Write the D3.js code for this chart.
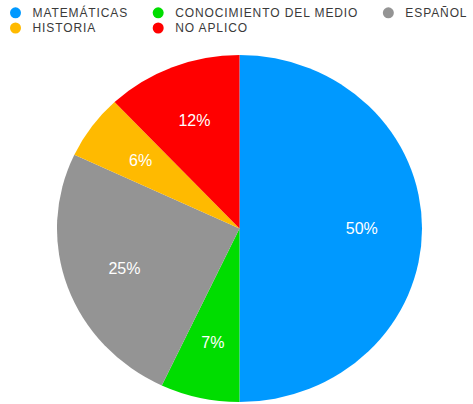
<!DOCTYPE html>
<html>
<head>
<meta charset="utf-8">
<script src="https://cdn.jsdelivr.net/npm/d3@7"></script>
<style>
  body { margin: 0; background: #fff; }
  svg { display: block; font-family: 'Liberation Sans', Arial, sans-serif; }
</style>
</head>
<body>
<svg id="chart" width="473" height="404"></svg>
<script>
const categories = ['MATEMÁTICAS', 'CONOCIMIENTO DEL MEDIO', 'ESPAÑOL', 'HISTORIA', 'NO APLICO']
const values = [50, 7, 25, 6, 12]
const colors = ['#0099ff', '#00dd00', '#949494', '#ffba00', '#ff0000']

const LEGEND_COLUMNS = 3
const width = 473
const cx = 239.5
const cy = 228.5
const radius = 173.5
const stretchX = 1.052

const svg = d3.select('#chart')

const data = categories.map((name, i) => ({ name, value: values[i], color: colors[i] }))

// pie
const pie = d3.pie().sort(null).value(d => d.value)
const arcs = pie(data)
const arc = d3.arc().innerRadius(0).outerRadius(radius)
const labelArc = d3.arc().innerRadius(radius * 0.67).outerRadius(radius * 0.67)

svg.append('g')
  .attr('transform', `translate(${cx},${cy}) scale(${stretchX},1)`)
  .selectAll('path')
  .data(arcs)
  .enter()
  .append('path')
  .attr('d', arc)
  .attr('fill', d => d.data.color)

svg.append('g')
  .attr('transform', `translate(${cx},${cy})`)
  .selectAll('text')
  .data(arcs)
  .enter()
  .append('text')
  .attr('x', d => labelArc.centroid(d)[0] * stretchX)
  .attr('y', d => labelArc.centroid(d)[1])
  .attr('dy', '0.36em')
  .attr('text-anchor', 'middle')
  .attr('fill', '#fff')
  .style('font-size', '16px')
  .text(d => `${d.value}%`)

// legend, laid out as a grid whose columns fit the widest label
const legend = svg.append('g')
const items = legend.selectAll('g.legend-item')
  .data(data)
  .enter()
  .append('g')
  .attr('class', 'legend-item')

items.append('circle')
  .attr('r', 5.5)
  .attr('fill', d => d.color)

items.append('text')
  .attr('x', 17)
  .attr('dy', '0.36em')
  .attr('fill', '#3a3a3a')
  .style('font-size', '12px')
  .style('letter-spacing', '0.9px')
  .text(d => d.name)

const colWidths = d3.range(LEGEND_COLUMNS).map(() => 0)
items.each(function (d, i) {
  const w = d3.select(this).select('text').node().getComputedTextLength()
  const col = i % LEGEND_COLUMNS
  colWidths[col] = Math.max(colWidths[col], w)
})
const colX = [15.5]
for (let c = 1; c < LEGEND_COLUMNS; c++) {
  colX.push(colX[c - 1] + 17 + colWidths[c - 1] + 30)
}

items.attr('transform', (d, i) =>
  `translate(${colX[i % LEGEND_COLUMNS]},${12.8 + Math.floor(i / LEGEND_COLUMNS) * 15.2})`
)
</script>
</body>
</html>
